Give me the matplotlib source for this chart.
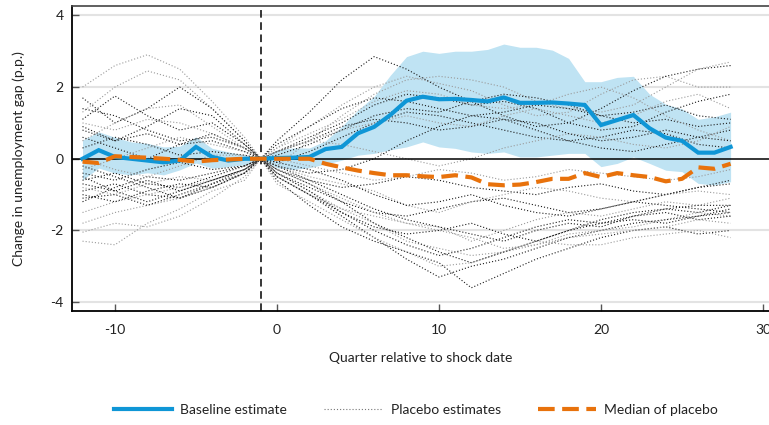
import matplotlib
matplotlib.use("Agg")
import matplotlib.pyplot as plt
from matplotlib.lines import Line2D

plt.rcParams['font.family'] = ['Lato', 'DejaVu Sans']
plt.rcParams['axes.unicode_minus'] = False

# ---------------- data ----------------
quarters = list(range(-12, 29))
baseline = [0.0, 0.24, 0.05, 0.0, -0.05, -0.1, -0.05, 0.33, 0.05, -0.05, 0.0, 0.0,
            0.02, 0.03, 0.05, 0.27, 0.33, 0.71, 0.89, 1.22, 1.62, 1.73, 1.66, 1.67,
            1.64, 1.60, 1.71, 1.56, 1.56, 1.57, 1.54, 1.50, 0.94, 1.08, 1.22, 0.85,
            0.59, 0.50, 0.17, 0.17, 0.33]
band_upper = [0.52, 0.75, 0.60, 0.47, 0.43, 0.33, 0.35, 0.61, 0.29, 0.19, 0.10, 0.0,
              0.25, 0.30, 0.30, 0.50, 0.90, 1.36, 1.74, 2.33, 2.85, 3.00, 2.94, 3.00,
              3.00, 3.05, 3.20, 3.11, 3.11, 3.03, 2.80, 2.15, 2.15, 2.27, 2.30, 1.80,
              1.52, 1.39, 1.10, 1.17, 1.30]
band_lower = [-0.59, -0.26, -0.40, -0.45, -0.39, -0.45, -0.31, -0.12, -0.26, -0.22, -0.17, 0.0,
              -0.25, -0.30, -0.25, -0.15, -0.04, 0.10, 0.15, 0.25, 0.33, 0.47, 0.33, 0.29,
              0.19, 0.15, 0.19, 0.05, 0.05, 0.10, 0.15, 0.15, -0.22, -0.13, 0.05, -0.13,
              -0.32, -0.36, -0.69, -0.73, -0.64]
median_placebo = [-0.08, -0.12, 0.07, 0.05, 0.03, 0.0, -0.03, -0.08, -0.04, -0.02, 0.0, 0.0,
                  0.0, 0.0, 0.0, -0.14, -0.24, -0.33, -0.40, -0.46, -0.46, -0.49, -0.51, -0.46,
                  -0.52, -0.71, -0.74, -0.72, -0.65, -0.56, -0.56, -0.40, -0.51, -0.40, -0.46,
                  -0.51, -0.63, -0.56, -0.24, -0.28, -0.14]

placebo_quarters = [-12, -10, -8, -6, -4, -2, -1, 0, 2, 4, 6, 8, 10, 12, 14, 16, 18, 20, 22, 24, 26, 28]
placebo_1 = [2.0, 2.6, 2.9, 2.5, 1.6, 0.6, 0, -0.2, 0.5, 1.2, 1.8, 2.2, 2.3, 2.2, 2.0, 1.6, 1.4, 1.3, 1.5, 2.0, 2.5, 2.7]
placebo_2 = [1.3, 2.0, 2.45, 2.2, 1.4, 0.5, 0, 0.3, 0.9, 1.5, 2.0, 2.3, 2.1, 1.9, 1.5, 1.2, 1.3, 1.8, 2.2, 2.3, 2.0, 2.0]
placebo_3 = [1.7, 1.0, 1.4, 2.0, 1.4, 0.5, 0, 0.5, 1.3, 2.2, 2.85, 2.5, 2.0, 1.6, 1.2, 0.9, 1.0, 1.4, 1.9, 2.3, 2.5, 2.6]
placebo_4 = [1.1, 1.75, 1.2, 0.8, 1.0, 0.4, 0, 0.2, 0.6, 1.0, 1.5, 1.8, 1.7, 1.5, 1.6, 1.4, 1.0, 0.8, 0.9, 1.3, 1.6, 1.8]
placebo_5 = [0.9, 0.5, 0.9, 1.4, 1.2, 0.4, 0, 0.1, 0.4, 0.8, 1.2, 1.4, 1.3, 1.6, 1.8, 1.7, 1.5, 1.2, 1.0, 1.1, 0.9, 1.0]
placebo_6 = [0.5, 1.0, 1.4, 1.5, 0.9, 0.3, 0, 0.3, 0.7, 1.1, 1.6, 1.9, 1.8, 1.5, 1.4, 1.5, 1.8, 2.0, 1.7, 1.2, 0.8, 0.5]
placebo_7 = [0.6, 0.3, 0.0, 0.4, 0.7, 0.3, 0, -0.1, 0.2, 0.6, 1.0, 1.3, 1.2, 1.0, 0.8, 0.6, 0.5, 0.6, 0.8, 0.7, 0.4, 0.3]
placebo_8 = [0.3, 0.6, 0.4, 0.1, 0.2, 0.1, 0, -0.2, -0.4, -0.3, 0.0, 0.5, 0.9, 1.2, 1.1, 0.8, 0.5, 0.3, 0.2, 0.4, 0.6, 0.8]
placebo_9 = [-0.3, 0.0, 0.3, 0.6, 0.4, 0.2, 0, 0.2, 0.5, 0.4, 0.2, 0.0, -0.2, 0.0, 0.3, 0.5, 0.7, 0.6, 0.4, 0.3, 0.5, 0.9]
placebo_10 = [-0.4, -0.6, -0.3, -0.1, -0.3, -0.2, 0, -0.3, -0.6, -0.8, -0.7, -0.5, -0.6, -0.8, -0.9, -1.0, -0.8, -0.7, -0.9, -1.0, -0.8, -0.6]
placebo_11 = [-0.6, -0.4, -0.7, -0.8, -0.5, -0.2, 0, -0.4, -0.8, -1.2, -1.5, -1.6, -1.4, -1.2, -1.1, -1.3, -1.5, -1.4, -1.2, -1.3, -1.4, -1.5]
placebo_12 = [-0.8, -1.0, -0.7, -0.5, -0.6, -0.3, 0, -0.2, -0.5, -0.7, -0.9, -1.3, -1.5, -1.2, -1.0, -0.8, -0.9, -1.1, -1.2, -1.0, -0.9, -1.0]
placebo_13 = [-0.9, -0.7, -1.0, -1.1, -0.7, -0.3, 0, -0.5, -1.0, -1.6, -2.2, -2.8, -3.3, -3.0, -2.8, -2.5, -2.2, -2.0, -1.8, -1.7, -1.6, -1.4]
placebo_14 = [-1.0, -1.2, -0.9, -0.7, -0.8, -0.4, 0, -0.6, -1.3, -1.9, -2.3, -2.6, -2.9, -3.6, -3.2, -2.8, -2.5, -2.2, -2.0, -1.9, -2.1, -2.0]
placebo_15 = [-1.5, -1.2, -1.0, -0.8, -0.6, -0.3, 0, -0.4, -0.9, -1.4, -1.8, -2.3, -2.5, -2.7, -2.6, -2.4, -2.1, -2.0, -1.9, -1.7, -1.5, -1.6]
placebo_16 = [-2.05, -1.8, -1.9, -1.6, -1.1, -0.5, 0, -0.7, -1.2, -1.7, -2.2, -2.6, -3.0, -2.9, -2.6, -2.3, -2.4, -2.4, -2.2, -2.1, -2.0, -2.2]
placebo_17 = [-2.3, -2.4, -1.8, -1.4, -0.9, -0.6, 0, -0.3, -0.7, -1.1, -1.5, -1.8, -1.9, -2.3, -2.0, -1.7, -1.5, -1.6, -1.4, -1.2, -1.3, -1.1]
placebo_18 = [-0.5, -0.9, -1.2, -0.9, -0.6, -0.3, 0, -0.3, -0.7, -1.2, -1.8, -2.2, -2.6, -2.9, -2.6, -2.3, -2.0, -1.8, -1.7, -1.8, -1.6, -1.5]
placebo_19 = [-1.2, -0.8, -0.5, -0.6, -0.4, -0.2, 0, -0.1, -0.3, -0.6, -1.0, -1.3, -1.2, -1.0, -1.3, -1.5, -1.6, -1.4, -1.2, -1.0, -0.8, -0.7]
placebo_20 = [0.0, -0.3, -0.5, -0.2, 0.1, 0.1, 0, 0.0, -0.2, -0.4, -0.6, -0.5, -0.3, -0.4, -0.6, -0.5, -0.3, -0.4, -0.5, -0.6, -0.5, -0.3]
placebo_21 = [1.4, 1.2, 0.8, 0.5, 0.6, 0.3, 0, 0.4, 0.9, 1.4, 1.7, 1.6, 1.4, 1.2, 1.3, 1.5, 1.4, 1.2, 1.3, 1.5, 1.2, 1.1]
placebo_22 = [-0.2, -0.5, -0.8, -1.1, -0.8, -0.4, 0, -0.5, -1.0, -1.5, -1.9, -2.1, -2.0, -1.8, -2.1, -2.3, -2.0, -1.7, -1.5, -1.4, -1.3, -1.3]
placebo_23 = [-0.7, -0.9, -0.6, -0.9, -0.6, -0.3, 0, -0.2, -0.6, -1.0, -1.4, -1.7, -1.9, -2.1, -2.3, -2.0, -1.8, -1.9, -1.6, -1.5, -1.7, -1.6]
placebo_24 = [0.8, 0.5, 0.7, 0.4, 0.5, 0.2, 0, 0.2, 0.5, 0.9, 1.1, 1.0, 0.8, 0.9, 1.1, 1.0, 0.7, 0.5, 0.6, 0.8, 0.6, 0.5]
placebo_25 = [-1.8, -1.5, -1.3, -1.1, -0.8, -0.4, 0, -0.5, -1.0, -1.4, -1.6, -1.8, -2.0, -2.2, -2.5, -2.4, -2.2, -2.1, -2.0, -1.9, -1.7, -1.8]
placebo_26 = [-1.1, -1.0, -1.3, -1.0, -0.7, -0.4, 0, -0.4, -0.9, -1.5, -2.0, -2.4, -2.7, -2.5, -2.2, -1.9, -1.7, -1.8, -1.6, -1.4, -1.5, -1.3]
placebo_27 = [1.0, 0.8, 1.1, 1.0, 0.7, 0.3, 0, 0.2, 0.5, 0.8, 1.0, 1.2, 1.0, 0.9, 1.2, 1.4, 1.2, 1.0, 1.2, 1.6, 1.8, 1.4]

placebos = [placebo_1, placebo_2, placebo_3, placebo_4, placebo_5, placebo_6, placebo_7,
            placebo_8, placebo_9, placebo_10, placebo_11, placebo_12, placebo_13, placebo_14,
            placebo_15, placebo_16, placebo_17, placebo_18, placebo_19, placebo_20,
            placebo_21, placebo_22, placebo_23, placebo_24, placebo_25, placebo_26, placebo_27]
placebo_dark = [False, False, True, True, True, False, True, True, False, True, True,
                False, True, True, False, False, False, True, True, False, True, True,
                True, True, False, True, False]

x_ticks = [-10, 0, 10, 20, 30]
y_ticks = [-4, -2, 0, 2, 4]

# ---------------- figure ----------------
fig = plt.figure(figsize=(7.69, 4.25), dpi=100)
ax = fig.add_axes([0.0936, 0.268, 0.9064, 0.7186])

ax.set_xlim(-12.65, 30.37)
ax.set_ylim(-4.25, 4.27)

for yv in [-4, -2, 2, 4]:
    ax.axhline(yv, color='#e3e3e3', lw=1.5, zorder=0)

ax.fill_between(quarters, band_lower, band_upper, color='#bfe3f3', lw=0, zorder=1)

for vals, dark in zip(placebos, placebo_dark):
    ax.plot(placebo_quarters, vals, color='#1a1a1a' if dark else '#9a9a9a',
            lw=0.8, ls=(0, (1, 1.8)), zorder=2)

ax.axhline(0, color='black', lw=1.1, zorder=3)
ax.axvline(-1, color='black', lw=1.1, ls=(0, (5, 3)), zorder=3)

ax.plot(quarters, baseline, color='#0f96d6', lw=3, zorder=5, solid_joinstyle='miter')
ax.plot(quarters, median_placebo, color='#e8720c', lw=3, ls=(0, (4, 1.8)), zorder=6)

ax.set_xticks(x_ticks)
ax.set_yticks(y_ticks)
ax.tick_params(axis='both', direction='in', length=5, width=1, color='#555555',
               labelsize=10, labelcolor='#222222')
ax.tick_params(axis='x', pad=9)
ax.tick_params(axis='y', pad=6)

for s in ['left', 'bottom']:
    ax.spines[s].set_color('black')
    ax.spines[s].set_linewidth(1.3)
ax.spines['top'].set_color('#444444')
ax.spines['top'].set_linewidth(1.2)
ax.spines['right'].set_visible(False)

ax.set_xlabel('Quarter relative to shock date', fontsize=10, color='#222222', labelpad=12)
ax.set_ylabel('Change in unemployment gap (p.p.)', fontsize=10, color='#222222', labelpad=18)

handles = [Line2D([], [], color='#0f96d6', lw=3),
           Line2D([], [], color='#777777', lw=0.8, ls=(0, (1, 1.8))),
           Line2D([], [], color='#e8720c', lw=3, ls=(0, (4, 1.8)))]
labels = ['Baseline estimate', 'Placebo estimates', 'Median of placebo']
fig.legend(handles, labels, loc='center', bbox_to_anchor=(0.541, 0.035), ncol=3,
           frameon=False, fontsize=10, handlelength=4.2, handletextpad=0.6,
           columnspacing=2.65, labelcolor='#222222')

fig.savefig('out.png', dpi=100)
